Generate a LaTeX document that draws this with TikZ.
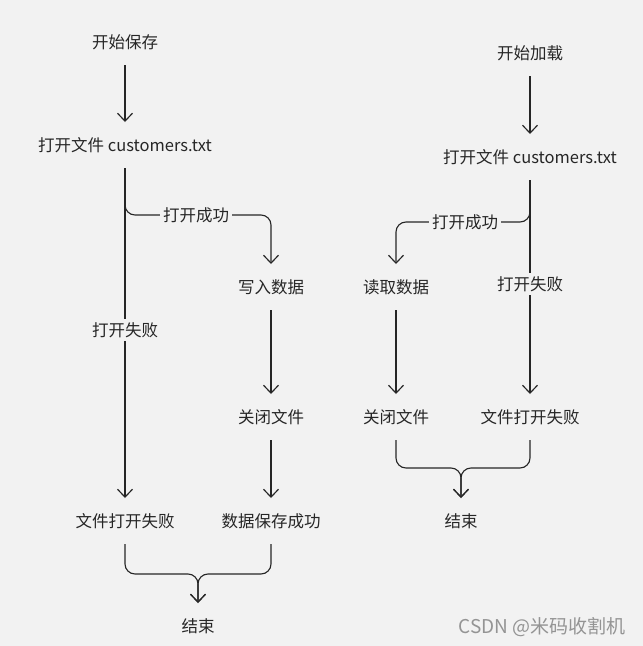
\documentclass[tikz,border=0pt]{standalone}
\usepackage{fontspec}
\newfontfamily\cjk{Noto Sans CJK SC}
\usetikzlibrary{arrows.meta}
\definecolor{bg}{HTML}{F2F2F2}
\definecolor{ink}{HTML}{262626}
\begin{document}
\begin{tikzpicture}[x=1pt,y=-1pt,
  txt/.style={font=\cjk\fontsize{16.5pt}{19pt}\selectfont, text=ink, inner xsep=3pt, inner ysep=4pt, text height=14pt, text depth=2pt, outer ysep=11pt},
  lbl/.style={txt, fill=bg, inner ysep=3pt, outer ysep=0pt},
  conn/.style={draw=ink, line width=1.15pt, rounded corners=10pt},
  arr/.style={conn, -{Straight Barb[length=8pt,width=15pt,line width=1.15pt]}}]
\fill[bg] (0,0) rectangle (643,646);
\useasboundingbox (0,0) rectangle (643,646);
% left column
\node[txt] (s1) at (125,42) {开始保存};
\node[txt] (o1) at (125,145) {打开文件 customers.txt};
\node[txt] (w1) at (271,287) {写入数据};
\node[txt] (c1) at (271,417) {关闭文件};
\node[txt] (f1) at (125,521) {文件打开失败};
\node[txt] (d1) at (271,521) {数据保存成功};
\node[txt] (e1) at (198,626) {结束};
\coordinate (b1) at (125,195);
\coordinate (k1) at (271,215);
\coordinate (m1) at (198,574);
\draw[arr] (s1.south) -- (o1.north);
\draw[arr] (o1.south) -- (f1.north);
\draw[arr] (b1) |- (k1) -- (w1.north);
\draw[arr] (w1.south) -- (c1.north);
\draw[arr] (c1.south) -- (d1.north);
\draw[arr] (f1.south) |- (m1) -- (e1.north);
\draw[arr] (d1.south) |- (m1) -- (e1.north);
\node[lbl] (l1) at (196,215) {打开成功};
\node[lbl] (l2) at (125,330) {打开失败};
% right column
\node[txt] (s2) at (530,53) {开始加载};
\node[txt] (o2) at (530,157) {打开文件 customers.txt};
\node[txt] (r2) at (396,287) {读取数据};
\node[txt] (c2) at (396,417) {关闭文件};
\node[txt] (f2) at (530,417) {文件打开失败};
\node[txt] (e2) at (461,521) {结束};
\coordinate (b2) at (530,205);
\coordinate (k2) at (396,222);
\coordinate (m2) at (461,468);
\draw[arr] (s2.south) -- (o2.north);
\draw[arr] (o2.south) -- (f2.north);
\draw[arr] (b2) |- (k2) -- (r2.north);
\draw[arr] (r2.south) -- (c2.north);
\draw[arr] (c2.south) |- (m2) -- (e2.north);
\draw[arr] (f2.south) |- (m2) -- (e2.north);
\node[lbl] (l3) at (465,222) {打开成功};
\node[lbl] (l4) at (530,284) {打开失败};
% watermark
\node[font=\cjk\fontsize{19pt}{22pt}\selectfont, text=black!42] (wm) at (542,627) {CSDN @米码收割机};
\end{tikzpicture}
\end{document}
